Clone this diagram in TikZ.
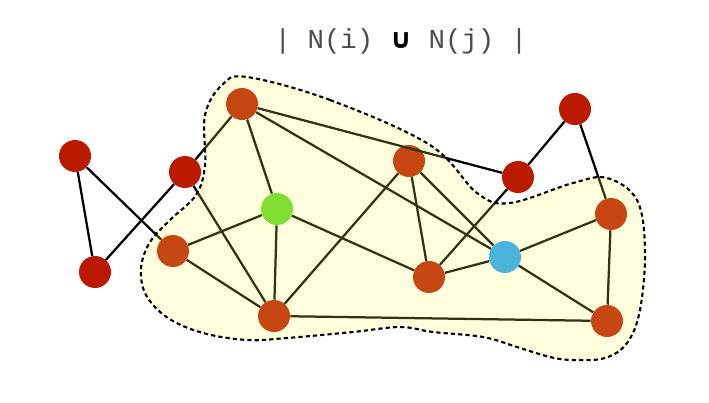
\documentclass[tikz,border=0pt]{standalone}
\usepackage{fontspec}
\newfontfamily\titlefont{Liberation Mono}
\newfontfamily\cupfont{DejaVu Sans}
\usetikzlibrary{positioning}

\definecolor{vred}{RGB}{185,26,0}
\definecolor{vgreen}{RGB}{98,214,40}
\definecolor{vblue}{RGB}{32,160,252}
\definecolor{blobfill}{RGB}{255,255,90}

\begin{document}
\begin{tikzpicture}[
  x=0.025cm, y=-0.025cm,
  every node/.style={circle,minimum size=0.8cm,inner sep=0pt},
  vertex/.style={fill=vred},
  edge/.style={draw,line width=1.6pt},
  blob/.style={draw,line width=1.5pt,dash pattern=on 3pt off 2.2pt,
    fill=blobfill,fill opacity=0.2}
]
  \useasboundingbox (0,0) rectangle (709,402);
  \node[circle=false,minimum size=0pt,text=black!70] (title) at (401,41)
    {\fontsize{19.5}{22}\titlefont | N(i) {\cupfont\bfseries\color{black} ∪} N(j) |};

  % vertices
  \node[vertex] (v1) at (75,156) {};
  \node[vertex] (v2) at (95,272) {};
  \node[vertex] (v3) at (185,172) {};
  \node[vertex] (v4) at (242,104) {};
  \node[vertex] (v5) at (173,251) {};
  \node[vertex,fill=vgreen] (v6) at (277,209) {};
  \node[vertex] (v7) at (274,316) {};
  \node[vertex] (v8) at (409,161) {};
  \node[vertex] (v9) at (429,277) {};
  \node[vertex] (v10) at (518,177) {};
  \node[vertex,fill=vblue] (v11) at (505,257) {};
  \node[vertex] (v12) at (575,109) {};
  \node[vertex] (v13) at (611,214) {};
  \node[vertex] (v14) at (607,321) {};

  % edges
  \foreach \a/\b in {v1/v2,v1/v5,v2/v3,v3/v4,v3/v7,v4/v6,v4/v10,v4/v11,
                     v5/v6,v5/v7,v6/v7,v6/v9,v7/v8,v7/v14,v8/v9,v8/v11,
                     v9/v11,v9/v10,v10/v12,v12/v13,v13/v11,v13/v14,v11/v14}
    \path[edge] (\a) -- (\b);

  % neighbourhood
  \path[blob] plot[smooth cycle,tension=0.6] coordinates {
    (247,77) (330,100) (430,145) (477,193) (510,203) (573,183) (607,178)
    (637,200) (645,250) (640,310) (627,343) (605,358) (573,360) (550,357)
    (517,347) (483,337) (433,332) (400,327) (353,332) (287,338) (247,340)
    (203,333) (168,318) (146,295) (141,268) (150,242) (170,220) (196,195)
    (205,165) (205,115) (222,85)};
\end{tikzpicture}
\end{document}
